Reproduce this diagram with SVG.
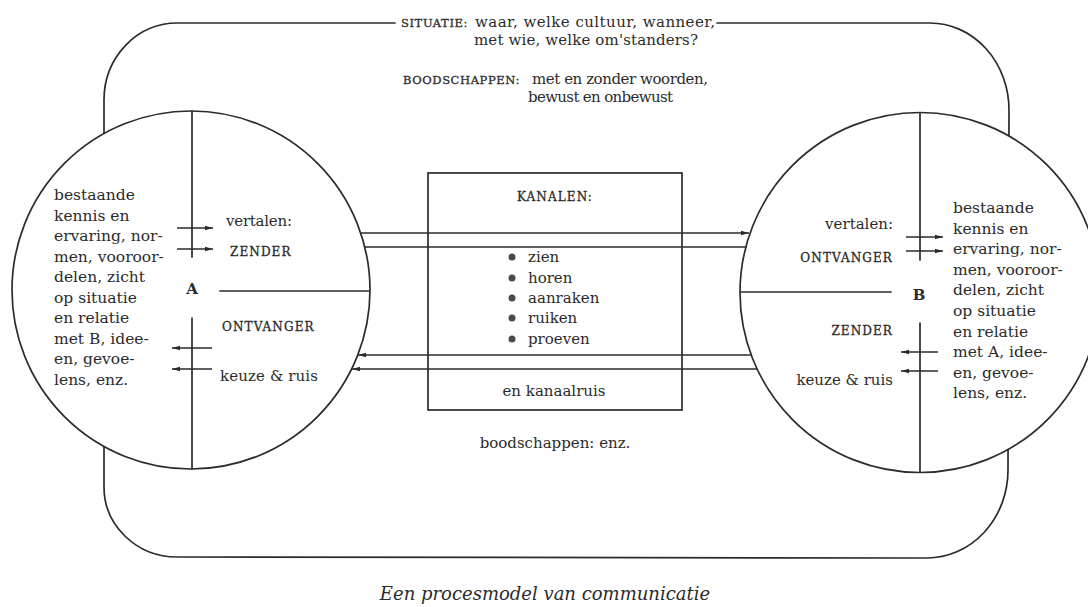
<svg xmlns="http://www.w3.org/2000/svg" width="1088" height="607" viewBox="0 0 1088 607">
<style>
.ln{fill:none;stroke:#2b2b2b;stroke-width:1.7;stroke-linecap:round}
.ar{fill:none;stroke:#2b2b2b;stroke-width:1.7;marker-end:url(#ah)}
.node{fill:#fff;stroke:#2b2b2b;stroke-width:1.7}
.t{font-family:"DejaVu Serif","Liberation Serif",serif;fill:#2b2b2b;font-size:15px}
.p{font-family:"DejaVu Serif","Liberation Serif",serif;fill:#2b2b2b;font-size:15.5px}
.sc{font-family:"DejaVu Serif","Liberation Serif",serif;fill:#2b2b2b;font-size:12px;letter-spacing:1.1px;stroke:#2b2b2b;stroke-width:0.3}
.sct{font-size:11.5px;letter-spacing:0.6px;stroke:#2b2b2b;stroke-width:0.3}
.big{font-family:"DejaVu Serif","Liberation Serif",serif;fill:#2b2b2b;font-size:15px;font-weight:bold}
.cap{font-family:"DejaVu Serif","Liberation Serif",serif;fill:#2b2b2b;font-size:18px;font-style:italic}
.dot{fill:#4a4a4a}
</style>
<defs>
<marker id="ah" markerWidth="9" markerHeight="6" refX="8" refY="3" orient="auto" markerUnits="userSpaceOnUse">
<path d="M0,0.8 L8,3 L0,5.2 z" fill="#2b2b2b"/>
</marker>
</defs>
<rect width="1088" height="607" fill="#fff"/>

<g id="situatie">
<path class="ln" d="M395,23 L177,23 A73,77 0 0 0 104,100 L104,487 A73,70 0 0 0 177,557 L927,558 A81,88 0 0 0 1008,470 L1009,110 A79,87 0 0 0 930,23 L717,23"/>
<text class="t" y="27"><tspan class="sct" x="401">SITUATIE:</tspan><tspan x="475" textLength="240">waar, welke cultuur, wanneer,</tspan></text>
<text class="t" x="474" y="45" textLength="224">met wie, welke om'standers?</text>
<text class="t" y="84"><tspan class="sct" x="403">BOODSCHAPPEN:</tspan><tspan x="532" textLength="176">met en zonder woorden,</tspan></text>
<text class="t" x="528" y="102" textLength="145">bewust en onbewust</text>
<text class="t" x="555" y="448" text-anchor="middle">boodschappen: enz.</text>
</g>

<g id="node-A">
<circle class="node" cx="191" cy="290" r="179"/>
<path class="ln" d="M192,111 L192,257 M192,318 L192,469 M220,291 L369,291"/>
<path class="ar" d="M177,228 L213,228"/>
<path class="ar" d="M177,249 L213,249"/>
<path class="ar" d="M212,348 L172,348"/>
<path class="ar" d="M212,369 L172,369"/>
<text class="p">
<tspan x="54" y="200">bestaande</tspan>
<tspan x="54" y="220.5">kennis en</tspan>
<tspan x="54" y="241">ervaring, nor-</tspan>
<tspan x="54" y="261.5">men, vooroor-</tspan>
<tspan x="54" y="282">delen, zicht</tspan>
<tspan x="54" y="302.5">op situatie</tspan>
<tspan x="54" y="323">en relatie</tspan>
<tspan x="54" y="343.5">met B, idee-</tspan>
<tspan x="54" y="364">en, gevoe-</tspan>
<tspan x="54" y="384.5">lens, enz.</tspan>
</text>
<text class="t" x="226" y="226" textLength="66">vertalen:</text>
<text class="sc" x="230" y="256">ZENDER</text>
<text class="big" x="192" y="294" text-anchor="middle">A</text>
<text class="sc" x="222" y="331">ONTVANGER</text>
<text class="t" x="220" y="381" textLength="98">keuze &amp; ruis</text>
</g>

<g id="node-B">
<circle class="node" cx="920" cy="292.5" r="180"/>
<path class="ln" d="M920,113 L920,260 M920,323 L920,472 M741,292 L891,292"/>
<path class="ar" d="M906,237 L943,237"/>
<path class="ar" d="M906,251 L943,251"/>
<path class="ar" d="M938,352 L901,352"/>
<path class="ar" d="M938,371 L901,371"/>
<text class="p">
<tspan x="953" y="213">bestaande</tspan>
<tspan x="953" y="233.6">kennis en</tspan>
<tspan x="953" y="254.2">ervaring, nor-</tspan>
<tspan x="953" y="274.8">men, vooroor-</tspan>
<tspan x="953" y="295.4">delen, zicht</tspan>
<tspan x="953" y="316">op situatie</tspan>
<tspan x="953" y="336.6">en relatie</tspan>
<tspan x="953" y="357.2">met A, idee-</tspan>
<tspan x="953" y="377.8">en, gevoe-</tspan>
<tspan x="953" y="398.4">lens, enz.</tspan>
</text>
<text class="t" x="893" y="229" text-anchor="end">vertalen:</text>
<text class="sc" x="893" y="262" text-anchor="end">ONTVANGER</text>
<text class="big" x="919" y="300" text-anchor="middle">B</text>
<text class="sc" x="893" y="335" text-anchor="end">ZENDER</text>
<text class="t" x="893" y="385" text-anchor="end">keuze &amp; ruis</text>
</g>

<g id="kanalen">
<rect class="ln" x="428" y="173" width="254" height="237"/>
<text class="sc" x="555" y="201" text-anchor="middle">KANALEN:</text>
<circle class="dot" cx="512" cy="257" r="3.5"/>
<circle class="dot" cx="512" cy="278" r="3.5"/>
<circle class="dot" cx="512" cy="298" r="3.5"/>
<circle class="dot" cx="512" cy="318" r="3.5"/>
<circle class="dot" cx="512" cy="339" r="3.5"/>
<text class="t" x="528" y="262">zien</text>
<text class="t" x="528" y="283">horen</text>
<text class="t" x="528" y="303">aanraken</text>
<text class="t" x="528" y="323">ruiken</text>
<text class="t" x="528" y="344">proeven</text>
<text class="t" x="554" y="396" text-anchor="middle">en kanaalruis</text>
</g>

<g id="connectors">
<path class="ar" d="M361,233 L749,233"/>
<path class="ln" d="M365,247 L746,247"/>
<path class="ar" d="M751,355 L358,355"/>
<path class="ar" d="M757,369 L352,369"/>
</g>

<text class="cap" x="545" y="600" text-anchor="middle">Een procesmodel van communicatie</text>
</svg>
